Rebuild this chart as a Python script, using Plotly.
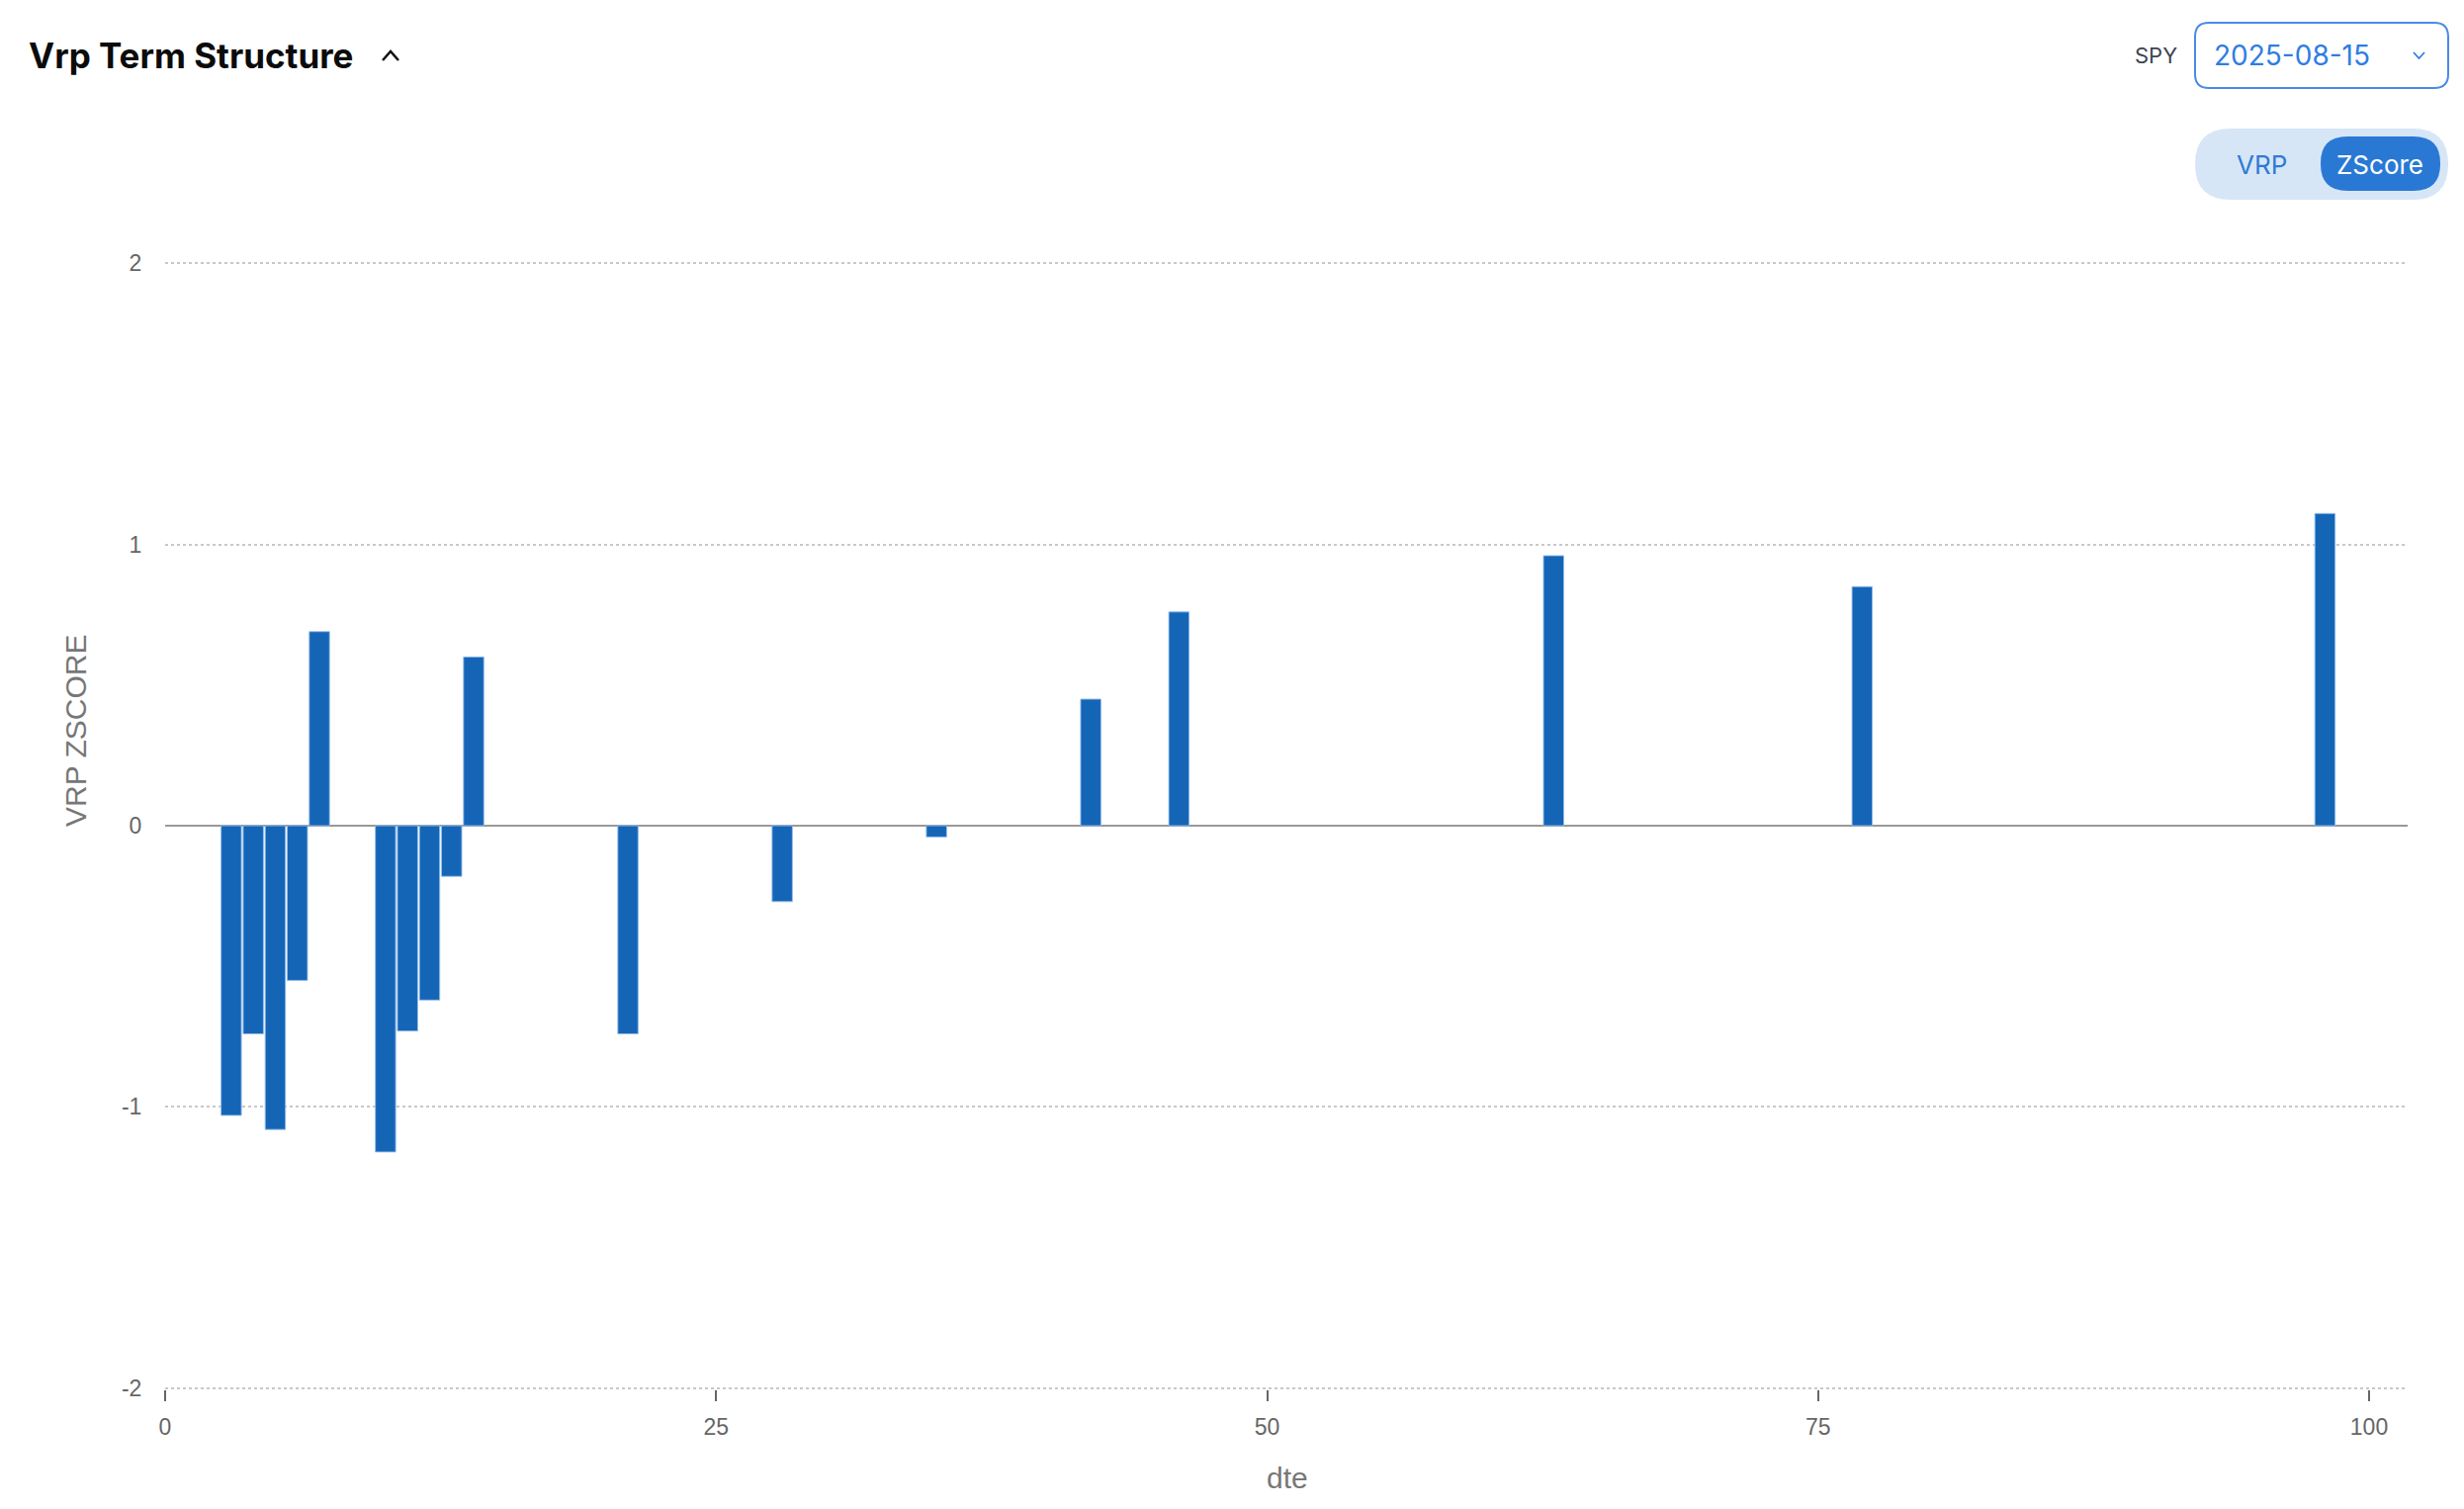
import plotly.graph_objects as go

# ---- data ----
dte = [3, 4, 5, 6, 7, 10, 11, 12, 13, 14, 21, 28, 35, 42, 46, 63, 77, 98]
zscore = [-1.03, -0.74, -1.08, -0.55, 0.69, -1.16, -0.73, -0.62, -0.18, 0.60,
          -0.74, -0.27, -0.04, 0.45, 0.76, 0.96, 0.85, 1.11]
y_ticks = [-2, -1, 0, 1, 2]
y_tick_text = ["-2", "-1", "0", "1", "2"]
x_ticks = [0, 25, 50, 75, 100]

W, H = 2492, 1526
L, R, T, B = 167, 57, 265, 121
PW, PH = W - L - R, H - T - B


def px(x):
    return (x - L) / PW


def py(y):
    return (H - B - y) / PH


FONT = "Inter, Roboto, Arial, sans-serif"
TICKFONT = "Liberation Sans, Arial, Helvetica, sans-serif"

fig = go.Figure()
fig.add_trace(go.Bar(
    x=dte, y=zscore, width=0.92,
    marker=dict(color="#1565b7", line=dict(color="rgba(150,190,235,0.9)", width=1)),
    hovertemplate="dte %{x}<br>%{y:.2f}<extra></extra>",
))

shapes = []
annotations = []


def rounded_rect(x0, y0, x1, y1, r, fill, line_color=None, line_w=0):
    p = (f"M {px(x0 + r)},{py(y0)} L {px(x1 - r)},{py(y0)} "
         f"Q {px(x1)},{py(y0)} {px(x1)},{py(y0 + r)} "
         f"L {px(x1)},{py(y1 - r)} Q {px(x1)},{py(y1)} {px(x1 - r)},{py(y1)} "
         f"L {px(x0 + r)},{py(y1)} Q {px(x0)},{py(y1)} {px(x0)},{py(y1 - r)} "
         f"L {px(x0)},{py(y0 + r)} Q {px(x0)},{py(y0)} {px(x0 + r)},{py(y0)} Z")
    shapes.append(dict(type="path", path=p, xref="paper", yref="paper",
                       fillcolor=fill,
                       line=dict(color=line_color or "rgba(0,0,0,0)", width=line_w),
                       layer="above"))


def chevron(x0, x1, ytop, ybot, up, color, w):
    if up:
        p = f"M {px(x0)},{py(ybot)} L {px((x0 + x1) / 2)},{py(ytop)} L {px(x1)},{py(ybot)}"
    else:
        p = f"M {px(x0)},{py(ytop)} L {px((x0 + x1) / 2)},{py(ybot)} L {px(x1)},{py(ytop)}"
    shapes.append(dict(type="path", path=p, xref="paper", yref="paper",
                       line=dict(color=color, width=w), layer="above"))


def text(x, y, s, size, color, xanchor="left", bold=False, angle=0, family=FONT):
    annotations.append(dict(
        x=px(x), y=py(y), xref="paper", yref="paper", text=f"<b>{s}</b>" if bold else s,
        showarrow=False, xanchor=xanchor, yanchor="middle", textangle=angle,
        font=dict(family=family, size=size, color=color)))


# header
text(27, 56, "Vrp Term Structure", 35, "#0b0b0b", bold=True)
chevron(387, 403, 52, 61, True, "#111", 2.5)

text(2204, 56, "SPY", 22, "#3d4451", xanchor="right")
rounded_rect(2220, 23, 2476, 89, 14, "#ffffff", "#4a8ae8", 2)
text(2237, 56, "2025-08-15", 28, "#2f7de1")
chevron(2441, 2452, 53, 59, False, "#2f7de1", 1.8)

# toggle
rounded_rect(2220, 130, 2476, 202, 36, "#d7e6f7")
rounded_rect(2347, 138, 2468, 193, 27, "#2979d4")
text(2287, 166, "VRP", 26, "#2e7bd6", xanchor="center")
text(2407, 166, "ZScore", 26, "#ffffff", xanchor="center")

# axis titles
text(76, 739, "VRP ZSCORE", 30, "#777777", xanchor="center", angle=-90, family=TICKFONT)
text(1302, 1494, "dte", 30, "#777777", xanchor="center", family=TICKFONT)

fig.update_layout(
    width=W, height=H,
    margin=dict(l=L, r=R, t=T, b=B, pad=0),
    paper_bgcolor="white", plot_bgcolor="white",
    showlegend=False,
    font=dict(family=FONT, color="#555"),
    shapes=shapes, annotations=annotations,
    xaxis=dict(range=[0, 101.75], tickmode="array", tickvals=x_ticks,
               showgrid=False, zeroline=False, showline=False,
               ticks="outside", ticklen=11, tickwidth=1.5, tickcolor="#666",
               ticklabelstandoff=6,
               tickfont=dict(size=23, color="#666", family=TICKFONT)),
    yaxis=dict(range=[-2.004, 2.004], tickmode="array", tickvals=y_ticks, ticktext=y_tick_text,
               showgrid=True, gridcolor="#c8c8c8", griddash="dot", gridwidth=1.5,
               zeroline=True, zerolinecolor="#999999", zerolinewidth=2,
               showline=False, ticks="outside", ticklen=18, tickcolor="rgba(0,0,0,0)",
               tickfont=dict(size=23, color="#666", family=TICKFONT)),
)

fig.write_html("out.html", config={"displayModeBar": False},
               post_script="document.body.style.margin='0';")
